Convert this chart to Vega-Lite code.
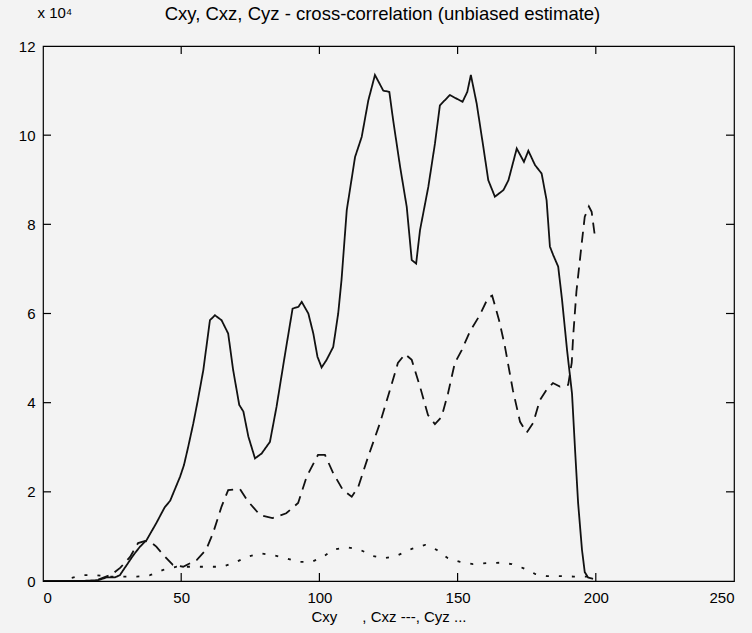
{
  "$schema": "https://vega.github.io/schema/vega-lite/v6.json",
  "width": 691,
  "height": 535,
  "autosize": {"type": "none"},
  "padding": {"left": 43, "top": 46, "right": 18, "bottom": 52},
  "background": "#f3f3f3",
  "config": {
    "view": {"stroke": "#000", "strokeWidth": 1.2},
    "font": "Liberation Sans",
    "axis": {"grid": false, "domain": false, "ticks": false, "labelColor": "#000", "labelFont": "Liberation Sans", "labelFontSize": 15, "titleFont": "Liberation Sans", "titleFontWeight": "normal", "titleColor": "#000"}
  },
  "layer": [
    {
      "data": {"values": [
        {"s": "Cxy", "x": 0, "y": 0}, {"s": "Cxy", "x": 14, "y": 0}, {"s": "Cxy", "x": 20, "y": 0.02}, {"s": "Cxy", "x": 23, "y": 0.08}, {"s": "Cxy", "x": 26, "y": 0.08}, {"s": "Cxy", "x": 27.8, "y": 0.13}, {"s": "Cxy", "x": 30.3, "y": 0.36}, {"s": "Cxy", "x": 32.7, "y": 0.58}, {"s": "Cxy", "x": 35.1, "y": 0.77}, {"s": "Cxy", "x": 37.5, "y": 0.92}, {"s": "Cxy", "x": 41, "y": 1.3}, {"s": "Cxy", "x": 44, "y": 1.65}, {"s": "Cxy", "x": 46, "y": 1.8}, {"s": "Cxy", "x": 48, "y": 2.1}, {"s": "Cxy", "x": 49.6, "y": 2.34}, {"s": "Cxy", "x": 51, "y": 2.6}, {"s": "Cxy", "x": 52.5, "y": 3.0}, {"s": "Cxy", "x": 54.4, "y": 3.54}, {"s": "Cxy", "x": 56, "y": 4.05}, {"s": "Cxy", "x": 58, "y": 4.73}, {"s": "Cxy", "x": 60.4, "y": 5.85}, {"s": "Cxy", "x": 62.2, "y": 5.96}, {"s": "Cxy", "x": 64.6, "y": 5.85}, {"s": "Cxy", "x": 67, "y": 5.55}, {"s": "Cxy", "x": 68.8, "y": 4.73}, {"s": "Cxy", "x": 71, "y": 3.95}, {"s": "Cxy", "x": 72.5, "y": 3.8}, {"s": "Cxy", "x": 74.3, "y": 3.24}, {"s": "Cxy", "x": 76.7, "y": 2.75}, {"s": "Cxy", "x": 79.1, "y": 2.86}, {"s": "Cxy", "x": 82.1, "y": 3.12}, {"s": "Cxy", "x": 84.5, "y": 3.91}, {"s": "Cxy", "x": 87.6, "y": 5.1}, {"s": "Cxy", "x": 90.3, "y": 6.11}, {"s": "Cxy", "x": 92.4, "y": 6.15}, {"s": "Cxy", "x": 93.6, "y": 6.26}, {"s": "Cxy", "x": 96, "y": 6.0}, {"s": "Cxy", "x": 97.8, "y": 5.55}, {"s": "Cxy", "x": 99.3, "y": 5.03}, {"s": "Cxy", "x": 100.8, "y": 4.79}, {"s": "Cxy", "x": 102.6, "y": 4.96}, {"s": "Cxy", "x": 105, "y": 5.25}, {"s": "Cxy", "x": 106.8, "y": 6.0}, {"s": "Cxy", "x": 108, "y": 6.75}, {"s": "Cxy", "x": 109.9, "y": 8.32}, {"s": "Cxy", "x": 112.9, "y": 9.51}, {"s": "Cxy", "x": 115.3, "y": 9.96}, {"s": "Cxy", "x": 117.7, "y": 10.78}, {"s": "Cxy", "x": 120.1, "y": 11.35}, {"s": "Cxy", "x": 123.1, "y": 11.0}, {"s": "Cxy", "x": 125.3, "y": 10.97}, {"s": "Cxy", "x": 126.7, "y": 10.33}, {"s": "Cxy", "x": 129.2, "y": 9.29}, {"s": "Cxy", "x": 131.6, "y": 8.39}, {"s": "Cxy", "x": 133.4, "y": 7.2}, {"s": "Cxy", "x": 135, "y": 7.12}, {"s": "Cxy", "x": 136.4, "y": 7.87}, {"s": "Cxy", "x": 139.4, "y": 8.84}, {"s": "Cxy", "x": 141.8, "y": 9.81}, {"s": "Cxy", "x": 143.6, "y": 10.67}, {"s": "Cxy", "x": 147.2, "y": 10.9}, {"s": "Cxy", "x": 149.6, "y": 10.82}, {"s": "Cxy", "x": 151.8, "y": 10.75}, {"s": "Cxy", "x": 153.5, "y": 10.97}, {"s": "Cxy", "x": 154.8, "y": 11.35}, {"s": "Cxy", "x": 156.9, "y": 10.71}, {"s": "Cxy", "x": 159.3, "y": 9.74}, {"s": "Cxy", "x": 161.1, "y": 8.99}, {"s": "Cxy", "x": 163.5, "y": 8.62}, {"s": "Cxy", "x": 166.6, "y": 8.77}, {"s": "Cxy", "x": 168.4, "y": 8.99}, {"s": "Cxy", "x": 171.4, "y": 9.7}, {"s": "Cxy", "x": 174, "y": 9.4}, {"s": "Cxy", "x": 175.6, "y": 9.65}, {"s": "Cxy", "x": 178, "y": 9.33}, {"s": "Cxy", "x": 180.4, "y": 9.14}, {"s": "Cxy", "x": 182.2, "y": 8.54}, {"s": "Cxy", "x": 183.4, "y": 7.5}, {"s": "Cxy", "x": 184.6, "y": 7.31}, {"s": "Cxy", "x": 186.4, "y": 7.05}, {"s": "Cxy", "x": 187.8, "y": 6.3}, {"s": "Cxy", "x": 189.6, "y": 5.18}, {"s": "Cxy", "x": 191.4, "y": 4.2}, {"s": "Cxy", "x": 192.5, "y": 2.94}, {"s": "Cxy", "x": 193.6, "y": 1.75}, {"s": "Cxy", "x": 195, "y": 0.7}, {"s": "Cxy", "x": 196, "y": 0.2}, {"s": "Cxy", "x": 197.2, "y": 0.08}, {"s": "Cxy", "x": 199, "y": 0.05},
        {"s": "Cxz", "x": 20, "y": 0.03}, {"s": "Cxz", "x": 25, "y": 0.15}, {"s": "Cxz", "x": 28, "y": 0.3}, {"s": "Cxz", "x": 31.5, "y": 0.54}, {"s": "Cxz", "x": 34.4, "y": 0.85}, {"s": "Cxz", "x": 37, "y": 0.9}, {"s": "Cxz", "x": 39, "y": 0.87}, {"s": "Cxz", "x": 41, "y": 0.77}, {"s": "Cxz", "x": 43.6, "y": 0.58}, {"s": "Cxz", "x": 47, "y": 0.36}, {"s": "Cxz", "x": 50.7, "y": 0.32}, {"s": "Cxz", "x": 55.6, "y": 0.47}, {"s": "Cxz", "x": 59, "y": 0.7}, {"s": "Cxz", "x": 61.5, "y": 1.07}, {"s": "Cxz", "x": 64.6, "y": 1.67}, {"s": "Cxz", "x": 67, "y": 2.04}, {"s": "Cxz", "x": 71.3, "y": 2.06}, {"s": "Cxz", "x": 74, "y": 1.8}, {"s": "Cxz", "x": 78.5, "y": 1.48}, {"s": "Cxz", "x": 83, "y": 1.41}, {"s": "Cxz", "x": 88, "y": 1.52}, {"s": "Cxz", "x": 92.3, "y": 1.75}, {"s": "Cxz", "x": 95.4, "y": 2.34}, {"s": "Cxz", "x": 99.5, "y": 2.83}, {"s": "Cxz", "x": 102, "y": 2.83}, {"s": "Cxz", "x": 105, "y": 2.42}, {"s": "Cxz", "x": 108.5, "y": 2.04}, {"s": "Cxz", "x": 111.7, "y": 1.89}, {"s": "Cxz", "x": 114, "y": 2.1}, {"s": "Cxz", "x": 117.6, "y": 2.78}, {"s": "Cxz", "x": 121.9, "y": 3.54}, {"s": "Cxz", "x": 125.5, "y": 4.28}, {"s": "Cxz", "x": 128.4, "y": 4.89}, {"s": "Cxz", "x": 131, "y": 5.09}, {"s": "Cxz", "x": 133.4, "y": 4.96}, {"s": "Cxz", "x": 136.4, "y": 4.36}, {"s": "Cxz", "x": 139.3, "y": 3.72}, {"s": "Cxz", "x": 141.8, "y": 3.52}, {"s": "Cxz", "x": 144.2, "y": 3.68}, {"s": "Cxz", "x": 146.5, "y": 4.2}, {"s": "Cxz", "x": 149, "y": 4.89}, {"s": "Cxz", "x": 151.5, "y": 5.18}, {"s": "Cxz", "x": 154.5, "y": 5.6}, {"s": "Cxz", "x": 158, "y": 5.96}, {"s": "Cxz", "x": 161, "y": 6.35}, {"s": "Cxz", "x": 162.5, "y": 6.4}, {"s": "Cxz", "x": 165, "y": 5.85}, {"s": "Cxz", "x": 167, "y": 5.3}, {"s": "Cxz", "x": 170, "y": 4.28}, {"s": "Cxz", "x": 172.6, "y": 3.57}, {"s": "Cxz", "x": 175, "y": 3.33}, {"s": "Cxz", "x": 177.3, "y": 3.54}, {"s": "Cxz", "x": 179.8, "y": 4.06}, {"s": "Cxz", "x": 182.3, "y": 4.3}, {"s": "Cxz", "x": 184.5, "y": 4.44}, {"s": "Cxz", "x": 187, "y": 4.36}, {"s": "Cxz", "x": 190, "y": 4.4}, {"s": "Cxz", "x": 191.3, "y": 4.9}, {"s": "Cxz", "x": 191.8, "y": 5.48}, {"s": "Cxz", "x": 193, "y": 6.5}, {"s": "Cxz", "x": 194.9, "y": 7.57}, {"s": "Cxz", "x": 196, "y": 8.17}, {"s": "Cxz", "x": 197.5, "y": 8.4}, {"s": "Cxz", "x": 198.5, "y": 8.28}, {"s": "Cxz", "x": 199.7, "y": 7.72},
        {"s": "Cyz", "x": 10.4, "y": 0.07}, {"s": "Cyz", "x": 14.5, "y": 0.13}, {"s": "Cyz", "x": 19.4, "y": 0.13}, {"s": "Cyz", "x": 24, "y": 0.1}, {"s": "Cyz", "x": 29, "y": 0.1}, {"s": "Cyz", "x": 33.9, "y": 0.1}, {"s": "Cyz", "x": 38.7, "y": 0.13}, {"s": "Cyz", "x": 43.5, "y": 0.25}, {"s": "Cyz", "x": 48.4, "y": 0.32}, {"s": "Cyz", "x": 55.6, "y": 0.32}, {"s": "Cyz", "x": 65, "y": 0.32}, {"s": "Cyz", "x": 70, "y": 0.43}, {"s": "Cyz", "x": 73.7, "y": 0.54}, {"s": "Cyz", "x": 78.5, "y": 0.62}, {"s": "Cyz", "x": 83.3, "y": 0.58}, {"s": "Cyz", "x": 88, "y": 0.51}, {"s": "Cyz", "x": 92.3, "y": 0.43}, {"s": "Cyz", "x": 97.2, "y": 0.43}, {"s": "Cyz", "x": 101.3, "y": 0.54}, {"s": "Cyz", "x": 105, "y": 0.7}, {"s": "Cyz", "x": 109.9, "y": 0.76}, {"s": "Cyz", "x": 114.7, "y": 0.7}, {"s": "Cyz", "x": 119.4, "y": 0.56}, {"s": "Cyz", "x": 123.7, "y": 0.51}, {"s": "Cyz", "x": 128.4, "y": 0.58}, {"s": "Cyz", "x": 133.4, "y": 0.72}, {"s": "Cyz", "x": 138.2, "y": 0.81}, {"s": "Cyz", "x": 142.4, "y": 0.7}, {"s": "Cyz", "x": 146.5, "y": 0.51}, {"s": "Cyz", "x": 150.9, "y": 0.43}, {"s": "Cyz", "x": 155.6, "y": 0.38}, {"s": "Cyz", "x": 160.5, "y": 0.4}, {"s": "Cyz", "x": 165.3, "y": 0.41}, {"s": "Cyz", "x": 169.6, "y": 0.38}, {"s": "Cyz", "x": 173.7, "y": 0.29}, {"s": "Cyz", "x": 178, "y": 0.16}, {"s": "Cyz", "x": 182.2, "y": 0.11}, {"s": "Cyz", "x": 186.3, "y": 0.11}, {"s": "Cyz", "x": 192, "y": 0.1}, {"s": "Cyz", "x": 197, "y": 0.1}, {"s": "Cyz", "x": 200, "y": 0.12}
      ]},
      "layer": [
        {
          "mark": {"type": "line", "color": "#111", "strokeWidth": 1.8, "clip": true},
          "encoding": {
            "x": {"field": "x", "type": "quantitative", "scale": {"domain": [0, 250], "nice": false},
                  "axis": {"orient": "bottom", "values": [0, 50, 100, 150, 200, 250], "labelPadding": 9, "title": "Cxy\u00a0\u00a0\u00a0\u00a0\u00a0\u00a0, Cxz ---, Cyz ...", "titleFontSize": 15, "titlePadding": 4}},
            "y": {"field": "y", "type": "quantitative", "scale": {"domain": [0, 12], "nice": false},
                  "axis": {"orient": "left", "values": [0, 2, 4, 6, 8, 10, 12], "labelPadding": 8, "title": "x 10\u2074", "titleAngle": 0, "titleX": -6, "titleY": -29, "titleAlign": "left", "titleBaseline": "alphabetic", "titleFontSize": 15}},
            "strokeDash": {"field": "s", "type": "nominal", "legend": null,
                  "scale": {"domain": ["Cxy", "Cxz", "Cyz"], "range": [[1, 0], [11, 7], [3, 10]]}}
          }
        },
        {
          "mark": {"type": "line", "strokeOpacity": 0},
          "encoding": {
            "x": {"field": "x", "type": "quantitative", "axis": {"orient": "top", "values": [0, 50, 100, 150, 200, 250], "labels": false, "title": "Cxy, Cxz, Cyz - cross-correlation (unbiased estimate)", "titleFontSize": 18.5, "titleX": 339, "titleY": -27, "titleBaseline": "alphabetic", "titleAlign": "center"}},
            "y": {"field": "y", "type": "quantitative", "axis": {"orient": "right", "values": [0, 2, 4, 6, 8, 10, 12], "labels": false, "title": null}},
            "detail": {"field": "s", "type": "nominal"}
          }
        }
      ]
    },
    {
      "data": {"values": [{"t": 50}, {"t": 100}, {"t": 150}, {"t": 200}]},
      "layer": [
        {
          "mark": {"type": "tick", "orient": "vertical", "size": 8, "thickness": 1.2, "color": "#000", "opacity": 1, "yOffset": -4},
          "encoding": {"x": {"field": "t", "type": "quantitative", "axis": null}, "y": {"datum": 0, "axis": null}}
        },
        {
          "mark": {"type": "tick", "orient": "vertical", "size": 8, "thickness": 1.2, "color": "#000", "opacity": 1, "yOffset": 4},
          "encoding": {"x": {"field": "t", "type": "quantitative", "axis": null}, "y": {"datum": 12, "axis": null}}
        }
      ]
    },
    {
      "data": {"values": [{"t": 2}, {"t": 4}, {"t": 6}, {"t": 8}, {"t": 10}]},
      "layer": [
        {
          "mark": {"type": "tick", "orient": "horizontal", "size": 8, "thickness": 1.2, "color": "#000", "opacity": 1, "xOffset": 4},
          "encoding": {"y": {"field": "t", "type": "quantitative", "axis": null}, "x": {"datum": 0, "axis": null}}
        },
        {
          "mark": {"type": "tick", "orient": "horizontal", "size": 8, "thickness": 1.2, "color": "#000", "opacity": 1, "xOffset": -4},
          "encoding": {"y": {"field": "t", "type": "quantitative", "axis": null}, "x": {"datum": 250, "axis": null}}
        }
      ]
    }
  ],
  "resolve": {"axis": {"x": "independent", "y": "independent"}}
}
